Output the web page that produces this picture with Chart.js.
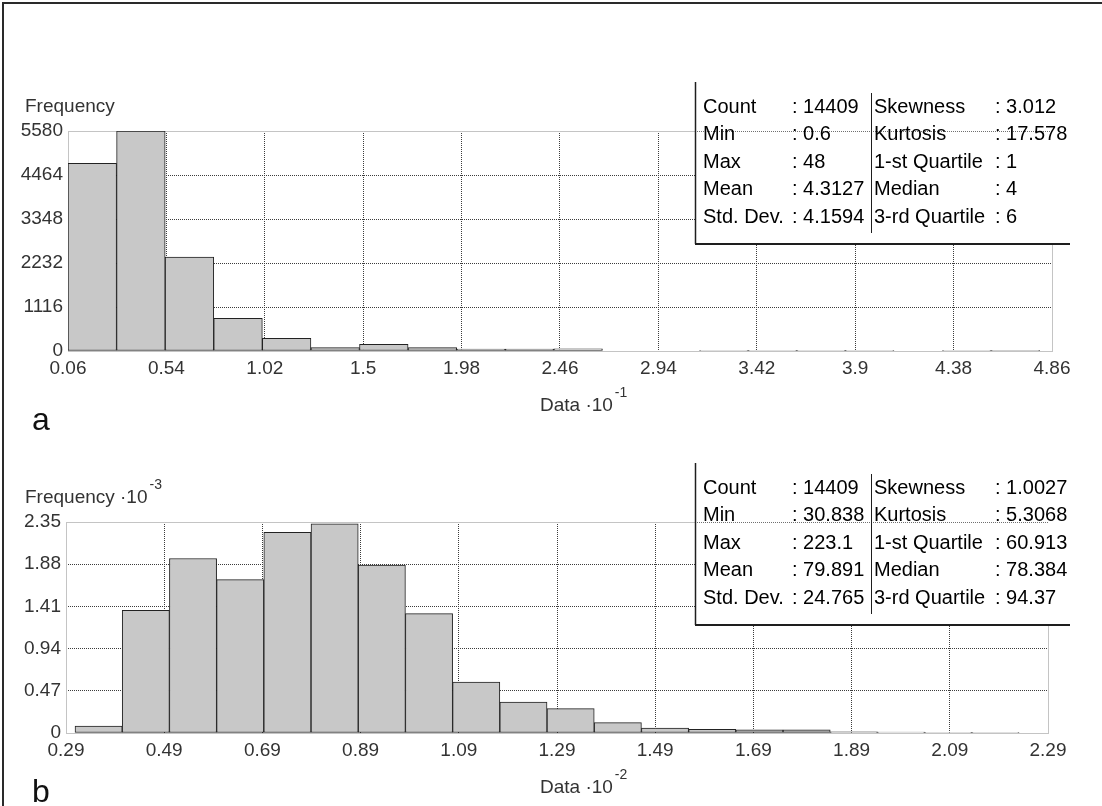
<!DOCTYPE html>
<html>
<head>
<meta charset="utf-8">
<script src="https://cdn.jsdelivr.net/npm/chart.js@4.4.1/dist/chart.umd.min.js"></script>
<style>
  html, body { margin: 0; padding: 0; background: #fff; }
  #page { position: relative; width: 1102px; height: 806px; overflow: hidden; background: #fff; }
  .panel { position: absolute; left: 0; width: 1102px; }
  #wrapA { top: 0; height: 430px; }
  #wrapB { top: 430px; height: 376px; }
  #frame { position: absolute; left: 2px; top: 2px; width: 1100px; height: 804px;
           border-top: 2px solid #2a2a2a; border-left: 2px solid #2a2a2a;
           box-sizing: border-box; pointer-events: none; }
</style>
</head>
<body>
<div id="page">
  <div class="panel" id="wrapA"><canvas id="chartA"></canvas></div>
  <div class="panel" id="wrapB"><canvas id="chartB"></canvas></div>
  <div id="frame"></div>
</div>
<script>
// ---- Histogram a (data scaled by 10^-1) ----
const dataMinA = 0.06;
const dataMaxA = 4.8;
const freqA = [4760, 5580, 2380, 830, 320, 86, 170, 86, 50, 50, 55, 0, 0, 8, 6, 5, 4, 0, 3, 2];
const xTicksA = [0.06, 0.54, 1.02, 1.5, 1.98, 2.46, 2.94, 3.42, 3.9, 4.38, 4.86];
const yTicksA = [0, 1116, 2232, 3348, 4464, 5580];
const statsLeftA = ['14409', '0.6', '48', '4.3127', '4.1594'];
const statsRightA = ['3.012', '17.578', '1', '4', '6'];

// ---- Histogram b (data scaled by 10^-2, frequency by 10^-3) ----
const dataMinB = 0.30838;
const dataMaxB = 2.231;
const freqB = [0.078, 1.367, 1.943, 1.709, 2.236, 2.329, 1.871, 1.330, 0.568, 0.345,
               0.272, 0.116, 0.056, 0.041, 0.035, 0.035, 0.012, 0.010, 0.003, 0.004];
const xTicksB = [0.29, 0.49, 0.69, 0.89, 1.09, 1.29, 1.49, 1.69, 1.89, 2.09, 2.29];
const yTicksB = [0, 0.47, 0.94, 1.41, 1.88, 2.35];
const statsLeftB = ['14409', '30.838', '223.1', '79.891', '24.765'];
const statsRightB = ['1.0027', '5.3068', '60.913', '78.384', '94.37'];

// ---- Shared statistic names ----
const statNamesLeft = ['Count', 'Min', 'Max', 'Mean', 'Std. Dev.'];
const statNamesRight = ['Skewness', 'Kurtosis', '1-st Quartile', 'Median', '3-rd Quartile'];

const NARROW = "'Liberation Sans Narrow', 'Liberation Sans', Arial, sans-serif";
const SANS = "'Liberation Sans', Arial, sans-serif";

// equal-width bins spanning [lo, hi], one point per bin centre
function binPoints(freq, lo, hi) {
  const w = (hi - lo) / freq.length;
  return freq.map((f, i) => ({ x: lo + (i + 0.5) * w, y: f }));
}

function drawWithSup(ctx, x, baseline, base, sup) {
  ctx.font = '19px ' + NARROW;
  ctx.textBaseline = 'alphabetic';
  ctx.textAlign = 'left';
  ctx.fillText(base, x, baseline);
  if (sup) {
    const w = ctx.measureText(base).width;
    ctx.font = '14px ' + NARROW;
    ctx.fillText(sup, x + w + 2, baseline - 14);
  }
}

// frame, titles, panel letter and the statistics table
const panelDecor = {
  id: 'panelDecor',
  beforeDatasetsDraw(chart) {
    const { ctx, chartArea: a } = chart;
    ctx.save();
    ctx.strokeStyle = '#c4c4c4';
    ctx.lineWidth = 1;
    const l = Math.round(a.left) + 0.5, t = Math.round(a.top) + 0.5;
    const r = Math.round(a.right) + 0.5, b = Math.round(a.bottom) + 0.5;
    ctx.strokeRect(l, t, r - l, b - t);
    ctx.restore();
  },
  afterDraw(chart, args, o) {
    const { ctx, chartArea: a } = chart;
    ctx.save();
    ctx.fillStyle = '#333';
    // axis titles
    drawWithSup(ctx, 25, a.top - 19, o.yTitle, o.ySup);
    drawWithSup(ctx, 540, a.bottom + 60, o.xTitle, o.xSup);
    // panel letter
    ctx.fillStyle = '#111';
    ctx.font = '32px ' + SANS;
    ctx.textBaseline = 'alphabetic';
    ctx.fillText(o.letter, 32, o.letterBaseline);

    // statistics table
    const bx = 695, by = o.boxTop, bw = 375, bh = 162;
    ctx.fillStyle = '#fff';
    ctx.fillRect(bx, by, bw, bh);
    // the plot's top edge shows through the table
    ctx.strokeStyle = '#707070';
    ctx.lineWidth = 1;
    ctx.setLineDash([1, 1]);
    ctx.beginPath();
    ctx.moveTo(bx, Math.round(a.top) + 0.5);
    ctx.lineTo(a.right, Math.round(a.top) + 0.5);
    ctx.stroke();
    ctx.setLineDash([]);
    ctx.strokeStyle = '#1e1e1e';
    ctx.lineWidth = 1.5;
    ctx.beginPath();
    ctx.moveTo(bx + 0.5, by);
    ctx.lineTo(bx + 0.5, by + bh);
    ctx.stroke();
    ctx.lineWidth = 2;
    ctx.beginPath();
    ctx.moveTo(bx, by + bh);
    ctx.lineTo(bx + bw, by + bh);
    ctx.stroke();
    ctx.lineWidth = 1;
    ctx.beginPath();
    ctx.moveTo(871.5, by + 11);
    ctx.lineTo(871.5, by + 151);
    ctx.stroke();

    ctx.fillStyle = '#000';
    ctx.font = '20px ' + SANS;
    ctx.textBaseline = 'middle';
    ctx.textAlign = 'left';
    for (let i = 0; i < statNamesLeft.length; i++) {
      const y = by + 25 + i * 27.5;
      ctx.fillText(statNamesLeft[i], 703, y);
      ctx.fillText(': ' + o.left[i], 792, y);
      ctx.fillText(statNamesRight[i], 874, y);
      ctx.fillText(': ' + o.right[i], 995, y);
    }
    ctx.restore();
  }
};

const innerGrid = c =>
  (c.index === 0 || c.index === c.scale.ticks.length - 1) ? 'rgba(0,0,0,0)' : '#3c3c3c';

function histogram(canvasId, cfg) {
  const tickFont = { family: NARROW, size: 19 };
  return new Chart(document.getElementById(canvasId), {
    type: 'bar',
    data: {
      datasets: [{
        data: binPoints(cfg.freq, cfg.lo, cfg.hi),
        backgroundColor: '#c8c8c8',
        borderColor: '#222',
        borderWidth: 1,
        borderSkipped: false,
        barPercentage: 1,
        categoryPercentage: 1
      }]
    },
    options: {
      responsive: true,
      maintainAspectRatio: false,
      animation: false,
      layout: { padding: cfg.padding },
      plugins: {
        legend: { display: false },
        tooltip: { enabled: false },
        panelDecor: cfg.decor
      },
      scales: {
        x: {
          type: 'linear',
          min: cfg.xTicks[0],
          max: cfg.xTicks[cfg.xTicks.length - 1],
          offset: false,
          afterBuildTicks: s => { s.ticks = cfg.xTicks.map(v => ({ value: v })); },
          afterFit: s => { s.height = cfg.xAxisHeight; },
          grid: { offset: false, color: innerGrid, lineWidth: 1, drawTicks: false },
          border: { display: false, dash: [1, 1] },
          ticks: { font: tickFont, color: '#333', padding: 6, maxRotation: 0, minRotation: 0,
                   autoSkip: false, callback: v => String(v) }
        },
        y: {
          type: 'linear',
          min: cfg.yTicks[0],
          max: cfg.yTicks[cfg.yTicks.length - 1],
          afterBuildTicks: s => { s.ticks = cfg.yTicks.map(v => ({ value: v })); },
          afterFit: s => { s.width = cfg.yAxisWidth; },
          grid: { color: innerGrid, lineWidth: 1, drawTicks: false },
          border: { display: false, dash: [1, 1] },
          ticks: { font: tickFont, color: '#333', padding: 5, autoSkip: false,
                   callback: v => String(v) }
        }
      }
    },
    plugins: [panelDecor]
  });
}

histogram('chartA', {
  freq: freqA, lo: dataMinA, hi: dataMaxA,
  xTicks: xTicksA, yTicks: yTicksA,
  padding: { top: 131, right: 50, bottom: 0, left: 0 },
  xAxisHeight: 79, yAxisWidth: 68,
  decor: {
    yTitle: 'Frequency', ySup: '',
    xTitle: 'Data \u00b710', xSup: '-1',
    letter: 'a', letterBaseline: 430,
    boxTop: 82, left: statsLeftA, right: statsRightA
  }
});

histogram('chartB', {
  freq: freqB, lo: dataMinB, hi: dataMaxB,
  xTicks: xTicksB, yTicks: yTicksB,
  padding: { top: 92, right: 54, bottom: 0, left: 0 },
  xAxisHeight: 73, yAxisWidth: 66,
  decor: {
    yTitle: 'Frequency \u00b710', ySup: '-3',
    xTitle: 'Data \u00b710', xSup: '-2',
    letter: 'b', letterBaseline: 372,
    boxTop: 33, left: statsLeftB, right: statsRightB
  }
});
</script>
</body>
</html>
